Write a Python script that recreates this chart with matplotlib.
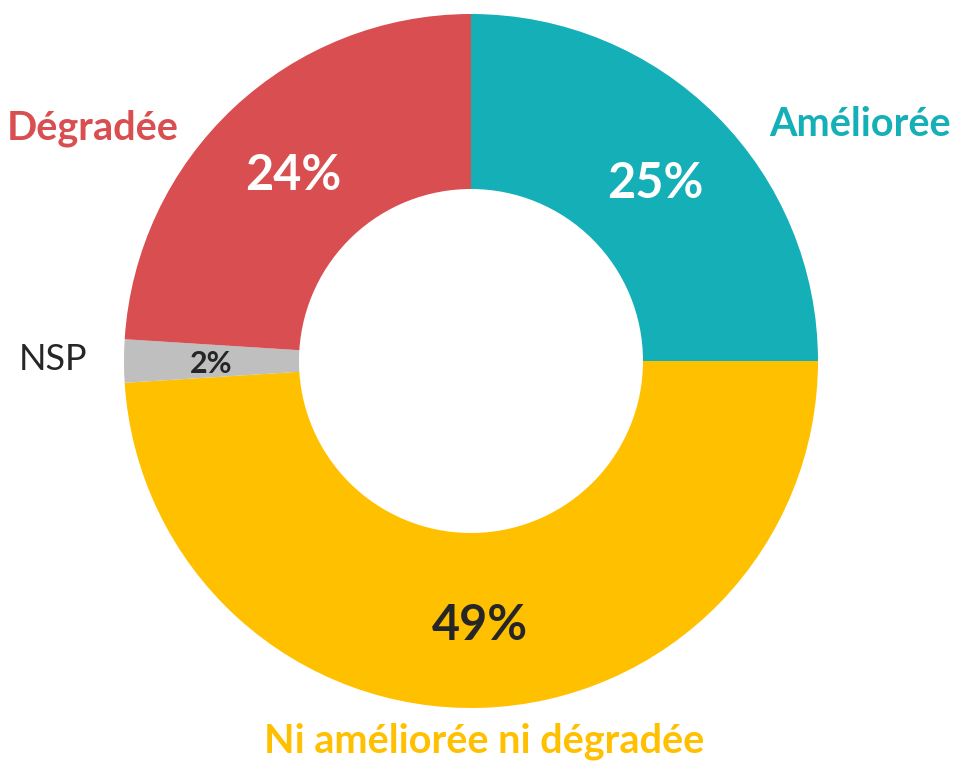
import matplotlib.pyplot as plt

categories = ["Améliorée", "Ni améliorée ni dégradée", "NSP", "Dégradée"]
values = [25, 49, 2, 24]
colors = ["#14AFB7", "#FFC000", "#BFBFBF", "#D94E50"]

plt.rcParams['font.family'] = ['Lato', 'DejaVu Sans']

fig = plt.figure(figsize=(9.57, 7.61), dpi=100)
ax = fig.add_axes([0, 0, 1, 1])

cx, cy, r = 471, 761 - 361, 347
ax.pie(values, colors=colors, startangle=90, counterclock=False,
       radius=r, center=(cx, cy), frame=True,
       wedgeprops=dict(width=r - 172, linewidth=0))
ax.set_xlim(0, 957)
ax.set_ylim(0, 761)
ax.set_aspect('equal')
ax.axis('off')

# category labels
ax.text(860, 761 - 125, categories[0], color=colors[0], fontsize=28.5,
        fontweight='bold', ha='center', va='center')
ax.text(484, 761 - 741, categories[1], color=colors[1], fontsize=28.5,
        fontweight='bold', ha='center', va='center')
ax.text(53, 761 - 360, categories[2], color="#262626", fontsize=26,
        ha='center', va='center')
ax.text(93, 761 - 128, categories[3], color=colors[3], fontsize=28.5,
        fontweight='bold', ha='center', va='center')

# percentage labels
pct_pos = [(655, 183), (480, 625), (211, 364), (293, 176)]
pct_col = ["white", "#262626", "#262626", "white"]
pct_size = [35, 35, 22, 35]
for v, (x, y), c, s in zip(values, pct_pos, pct_col, pct_size):
    ax.text(x, 761 - y, f"{v}%", color=c, fontsize=s, fontweight='bold',
            ha='center', va='center')

fig.savefig("out.png", dpi=100)
